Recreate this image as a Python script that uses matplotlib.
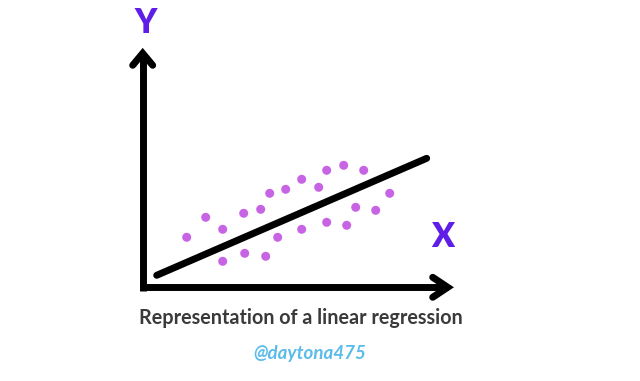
import matplotlib
matplotlib.use("Agg")
import matplotlib.pyplot as plt

# scatter points (arbitrary units, origin at the axes corner)
point_x = [4.4, 6.3, 8.0, 8.0, 10.1, 10.2, 11.8, 12.3, 12.7, 13.5, 14.3,
           15.9, 15.9, 17.6, 18.4, 18.4, 20.1, 20.4, 21.3, 22.1, 23.3, 24.7]
point_y = [5.0, 7.0, 5.8, 2.6, 7.4, 3.4, 7.8, 3.1, 9.4, 5.0, 9.8,
           10.8, 5.8, 10.0, 11.7, 6.5, 12.2, 6.2, 8.0, 11.7, 7.7, 9.4]

# regression line end points
line_x = [1.4, 28.4]
line_y = [1.2, 12.9]

# axis extents
x_axis_end = 30.5
y_axis_end = 23.4

title = "Representation of a linear regression"
credit = "@daytona475"

fig = plt.figure(figsize=(6.4, 3.81), dpi=100)
ax = fig.add_axes([0, 0, 1, 1])
ax.set_xlim(-14.27, 49.73)
ax.set_ylim(-9.37, 28.73)
ax.axis("off")

lw = 5.0
black = "#000000"

# axes
ax.plot([0, x_axis_end], [0, 0], color=black, lw=lw, solid_capstyle="butt")
ax.plot([0, 0], [0, y_axis_end], color=black, lw=lw, solid_capstyle="butt")
ax.plot([0, 0], [-0.35, 0.35], color=black, lw=lw, solid_capstyle="butt")
# arrow heads
ax.plot([x_axis_end - 1.5, x_axis_end, x_axis_end - 1.5], [1.0, 0, -1.0],
        color=black, lw=lw, solid_capstyle="round", solid_joinstyle="miter")
ax.plot([-1.0, 0, 1.0], [y_axis_end - 1.2, y_axis_end, y_axis_end - 1.2],
        color=black, lw=lw, solid_capstyle="round", solid_joinstyle="miter")

# regression line
ax.plot(line_x, line_y, color=black, lw=lw, solid_capstyle="round")

# data points
ax.scatter(point_x, point_y, s=42, color="#c764e4", edgecolors="none", zorder=3)

purple = "#5f1ee8"
ax.text(0.3, 26.4, "Y", color=purple, fontsize=24, fontweight="heavy",
        family="Lato", ha="center", va="center")
ax.text(30.0, 5.0, "X", color=purple, fontsize=24, fontweight="heavy",
        family="Lato", ha="center", va="center")

fig.text(0.4695, 1 - 324 / 381, title, color="#3a3a3a", fontsize=14.2,
         fontweight="bold", family="Lato", ha="center", va="baseline")
fig.text(0.4845, 1 - 359 / 381, credit, color="#5bbcea", fontsize=13.5,
         fontweight="bold", style="italic", family="Lato",
         ha="center", va="baseline")

fig.savefig("out.png", dpi=100)
